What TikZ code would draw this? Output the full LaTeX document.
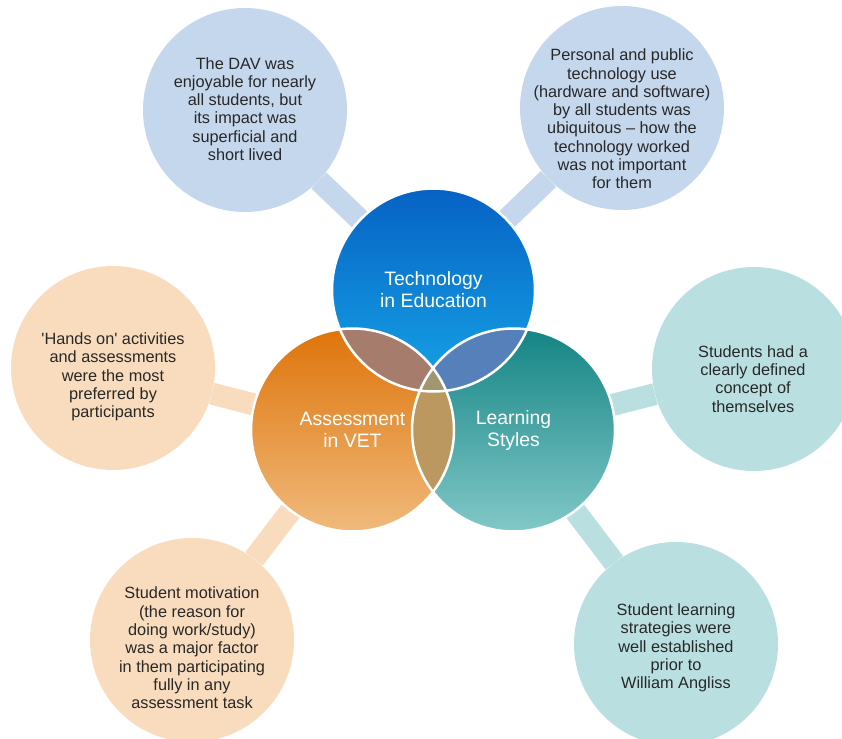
\documentclass[tikz,border=0pt]{standalone}
\usepackage{fontspec}
\setmainfont{Liberation Sans}
\usetikzlibrary{backgrounds}

\definecolor{techsat}{RGB}{196,215,237}
\definecolor{asssat}{RGB}{249,220,190}
\definecolor{lrnsat}{RGB}{186,223,225}
\definecolor{techtop}{RGB}{6,98,196}
\definecolor{techbot}{RGB}{22,164,230}
\definecolor{asstop}{RGB}{222,116,10}
\definecolor{assbot}{RGB}{240,186,124}
\definecolor{lrntop}{RGB}{20,132,132}
\definecolor{lrnbot}{RGB}{130,200,200}
\definecolor{ovTA}{RGB}{166,124,108}
\definecolor{ovTL}{RGB}{86,128,186}
\definecolor{ovAL}{RGB}{186,152,96}
\definecolor{ovall}{RGB}{160,150,112}
\definecolor{notetext}{RGB}{40,40,40}

\begin{document}
\begin{tikzpicture}[x=1pt,y=-1pt,
 bubble/.style={circle,fill=#1,minimum size=204pt,inner sep=0pt},
 note/.style={align=center,text=notetext,font=\fontsize{16.3}{18.3}\selectfont},
 hub/.style={circle,minimum size=203pt,inner sep=0pt,align=center,text=white,
  font=\fontsize{19.4}{22}\selectfont},
 rim/.style={draw=white,line width=2.5pt},
 bar/.style={line width=22pt}]
 \useasboundingbox (0,0) rectangle (842,738);

 % satellites
 \node[bubble=techsat] (tl) at (245,110) {};
 \node[bubble=techsat] (tr) at (622,108) {};
 \node[bubble=asssat] (lo) at (113,368) {};
 \node[bubble=asssat] (bl) at (192,640) {};
 \node[bubble=lrnsat] (rt) at (754,369) {};
 \node[bubble=lrnsat] (br) at (676,644) {};

 % hubs
 \node[hub,top color=techtop,bottom color=techbot] (tech) at (433.5,290) {Technology\\in Education};
 \node[hub,top color=asstop,bottom color=assbot] (ass) at (352.5,430) {Assessment\\in VET};
 \node[hub,top color=lrntop,bottom color=lrnbot] (lrn) at (513.5,430) {Learning\\Styles};

 \begin{scope}[on background layer]
  \path[bar] (tl) edge[techsat] (tech) (tr) edge[techsat] (tech)
   (lo) edge[asssat] (ass) (bl) edge[asssat] (ass)
   (rt) edge[lrnsat] (lrn) (br) edge[lrnsat] (lrn);
 \end{scope}

 % overlaps
 \begin{scope}
  \clip (ass.center) circle (101.5pt);
  \fill[ovAL] (lrn.center) circle (101.5pt);
 \end{scope}
 \begin{scope}
  \clip (tech.center) circle (101.5pt);
  \fill[ovTA] (ass.center) circle (101.5pt);
  \fill[ovTL] (lrn.center) circle (101.5pt);
  \clip (ass.center) circle (101.5pt);
  \fill[ovall] (lrn.center) circle (101.5pt);
 \end{scope}
 \draw[rim] (tech.center) circle (101.5pt) (ass.center) circle (101.5pt)
  (lrn.center) circle (101.5pt);

 % notes
 \node[note] (tl-txt) at (245,109) {The DAV was\\enjoyable for nearly\\all students, but\\its impact was\\superficial and\\short lived};
 \node[note] (tr-txt) at (622,119) {Personal and public\\technology use\\(hardware and software)\\by all students was\\ubiquitous -- how the\\technology worked\\was not important\\for them};
 \node[note] (lo-txt) at (113,377) {\textquotesingle Hands on\textquotesingle{} activities\\and assessments\\were the most\\preferred by\\participants};
 \node[note] (bl-txt) at (192,648) {Student motivation\\(the reason for\\doing work/study)\\was a major factor\\in them participating\\fully in any\\assessment task};
 \node[note] (rt-txt) at (753,379) {Students had a\\clearly defined\\concept of\\themselves};
 \node[note] (br-txt) at (676,648) {Student learning\\strategies were\\well established\\prior to\\William Angliss};
\end{tikzpicture}
\end{document}
